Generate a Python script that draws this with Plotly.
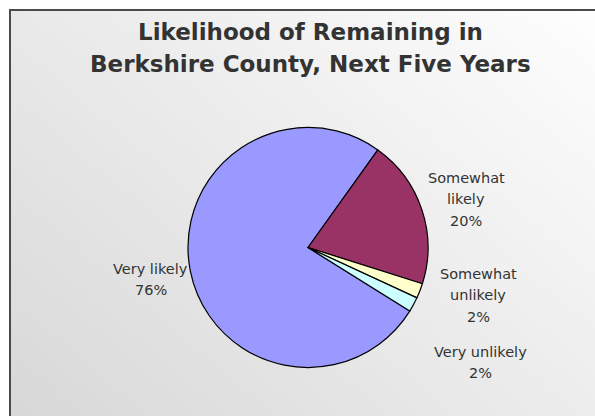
import base64
import struct
import zlib

import plotly.graph_objects as go

# Survey responses
categories = ["Very likely", "Somewhat likely", "Somewhat unlikely", "Very unlikely"]
shares = [76, 20, 2, 2]
slice_colors = ["#9999FF", "#993366", "#FFFFCC", "#CCFFFF"]
label_lines = [
    ["Very likely", "76%"],
    ["Somewhat", "likely", "20%"],
    ["Somewhat", "unlikely", "2%"],
    ["Very unlikely", "2%"],
]
title_lines = ["Likelihood of Remaining in", "Berkshire County, Next Five Years"]

W, H = 595, 416


def gradient_png(w, h, light=254, dark=216):
    """Diagonal grey gradient: light at top-right, darker at bottom-left."""
    rows = []
    for y in range(h):
        row = bytearray([0])
        for x in range(w):
            t = ((w - 1 - x) / (w - 1) * 0.55 + y / (h - 1) * 0.45)
            v = int(round(light - t * (light - dark)))
            row += bytes([v, v, v])
        rows.append(bytes(row))
    raw = b"".join(rows)

    def chunk(tag, data):
        c = struct.pack(">I", len(data)) + tag + data
        return c + struct.pack(">I", zlib.crc32(tag + data) & 0xFFFFFFFF)

    png = b"\x89PNG\r\n\x1a\n"
    png += chunk(b"IHDR", struct.pack(">IIBBBBB", w, h, 8, 2, 0, 0, 0))
    png += chunk(b"IDAT", zlib.compress(raw, 9))
    png += chunk(b"IEND", b"")
    return "data:image/png;base64," + base64.b64encode(png).decode()


def px(x):
    return x / W


def py(y):
    return 1 - y / H


cx, cy, r = 308, 247.5, 120

fig = go.Figure(go.Pie(
    labels=categories,
    values=shares,
    sort=False,
    direction="clockwise",
    rotation=122,
    marker=dict(colors=slice_colors, line=dict(color="#000000", width=1.2)),
    textinfo="none",
    hoverinfo="label+percent",
    showlegend=False,
    domain=dict(x=[px(cx - r), px(cx + r)], y=[py(cy + r), py(cy - r)]),
))

# Category labels beside the pie: centre x and first baseline, 22px leading
label_anchor = [(150.5, 274), (466, 183), (478, 279), (480, 357)]
label_size = 14.5
leading = 21.5
annotations = []
for (lx, base), lines in zip(label_anchor, label_lines):
    for i, line in enumerate(lines):
        annotations.append(dict(
            x=px(lx), y=py(base + i * leading - 0.35 * label_size),
            xref="paper", yref="paper", text=line, showarrow=False,
            xanchor="center", yanchor="middle",
            font=dict(family="DejaVu Sans", size=label_size, color="#333333")))

# Two-line bold title
title_size = 23
for line, base in zip(title_lines, [40, 72.5]):
    annotations.append(dict(
        x=px(310), y=py(base - 0.35 * title_size), xref="paper", yref="paper",
        text="<b>" + line + "</b>", showarrow=False,
        xanchor="center", yanchor="middle",
        font=dict(family="DejaVu Sans", size=title_size, color="#333333")))

fig.update_layout(
    width=W, height=H,
    margin=dict(l=0, r=0, t=0, b=0),
    paper_bgcolor="#FFFFFF",
    plot_bgcolor="#FFFFFF",
    annotations=annotations,
    images=[dict(source=gradient_png(120, 84), xref="paper", yref="paper",
                 x=px(10), y=py(10), sizex=1 - px(10), sizey=py(10),
                 xanchor="left", yanchor="top", sizing="stretch",
                 layer="below")],
    shapes=[dict(type="rect", xref="paper", yref="paper",
                 x0=px(10), x1=1.05, y0=-0.05, y1=py(10),
                 line=dict(color="#4a4a4a", width=2), layer="above")],
)

fig.write_html("out.html")
